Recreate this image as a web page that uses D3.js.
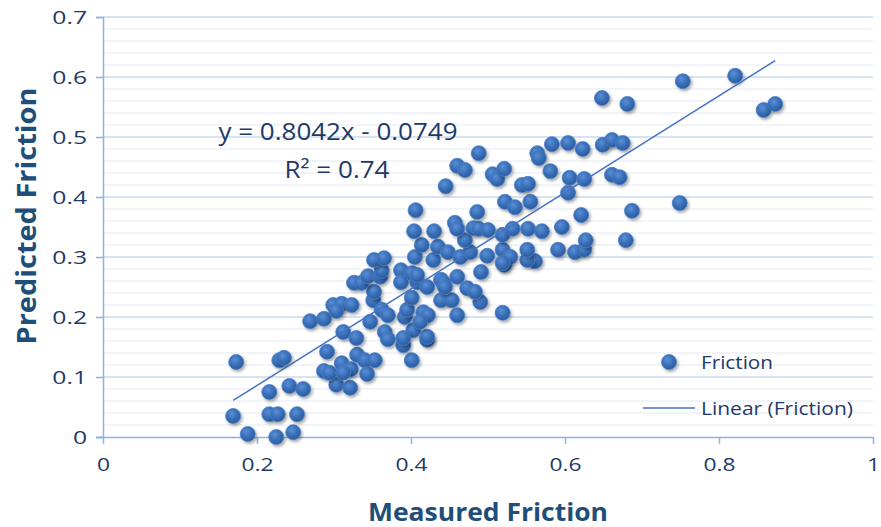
<!DOCTYPE html>
<html>
<head>
<meta charset="utf-8">
<script src="https://cdn.jsdelivr.net/npm/d3@7/dist/d3.min.js"></script>
<style>
  html, body { margin: 0; padding: 0; background: #ffffff; }
  svg { display: block; }
</style>
</head>
<body>
<svg id="chart" width="881" height="527"></svg>
<script>
// ---- data ----
const measured = [
  0.169,0.188,0.216,0.216,0.227,0.225,0.252,0.247,0.242,0.260,0.303,0.321,
  0.173,0.229,0.235,0.291,0.287,0.294,0.310,0.322,0.330,0.340,0.343,0.353,0.312,0.401,0.390,0.421,
  0.269,0.287,0.299,0.310,0.323,0.303,0.347,0.312,0.329,0.351,0.352,0.362,0.370,0.366,0.370,0.403,
  0.390,0.421,0.392,0.395,0.401,0.416,0.422,0.412,0.439,0.453,0.460,0.490,0.519,
  0.326,0.336,0.344,0.360,0.362,0.352,0.365,0.387,0.387,0.401,0.408,0.408,0.421,0.439,0.442,0.444,
  0.460,0.473,0.483,0.491,0.521,0.561,0.551,
  0.405,0.414,0.429,0.435,0.448,0.464,0.477,0.499,0.519,0.529,0.519,0.551,0.591,0.613,0.625,0.627,
  0.679,0.470,
  0.406,0.404,0.430,0.457,0.460,0.481,0.488,0.500,0.519,0.532,0.552,0.570,0.596,0.486,0.522,0.535,
  0.555,0.621,0.687,0.749,
  0.445,0.460,0.470,0.506,0.512,0.521,0.544,0.552,0.581,0.606,0.625,0.604,0.661,0.671,
  0.488,0.564,0.566,0.583,0.604,0.623,0.649,0.661,0.675,
  0.648,0.681,0.753,0.821,0.858,0.873
];
const predicted = [
  0.035,0.005,0.075,0.038,0.038,0.000,0.038,0.008,0.085,0.080,0.087,0.082,
  0.125,0.128,0.132,0.142,0.110,0.107,0.123,0.113,0.137,0.128,0.105,0.128,0.107,0.128,0.153,0.162,
  0.193,0.197,0.220,0.222,0.220,0.210,0.192,0.175,0.165,0.228,0.242,0.212,0.203,0.175,0.163,0.178,
  0.165,0.167,0.200,0.212,0.232,0.208,0.203,0.192,0.228,0.228,0.203,0.225,0.207,
  0.257,0.257,0.268,0.267,0.277,0.295,0.298,0.278,0.258,0.273,0.258,0.270,0.250,0.262,0.257,0.250,
  0.267,0.248,0.242,0.275,0.287,0.293,0.295,
  0.300,0.320,0.295,0.317,0.308,0.300,0.308,0.302,0.312,0.300,0.290,0.312,0.312,0.308,0.312,0.328,
  0.328,0.328,
  0.378,0.343,0.343,0.357,0.347,0.348,0.347,0.345,0.337,0.347,0.347,0.343,0.350,0.375,0.392,0.383,
  0.392,0.370,0.377,0.390,
  0.418,0.452,0.445,0.438,0.430,0.447,0.420,0.422,0.443,0.432,0.430,0.407,0.437,0.433,
  0.473,0.473,0.465,0.488,0.490,0.480,0.487,0.495,0.490,
  0.565,0.555,0.593,0.602,0.545,0.555
];
const xTicks = [0, 0.2, 0.4, 0.6, 0.8, 1];
const xTickLabels = ["0", "0.2", "0.4", "0.6", "0.8", "1"];
const yTicks = [0, 0.1, 0.2, 0.3, 0.4, 0.5, 0.6, 0.7];
const yTickLabels = ["0", "0.1", "0.2", "0.3", "0.4", "0.5", "0.6", "0.7"];
const slope = 0.8042;
const intercept = -0.0749;
const equationText = "y = 0.8042x - 0.0749";
const r2Text = "R² = 0.74";
const seriesName = "Friction";
const trendName = "Linear (Friction)";
const xTitle = "Measured Friction";
const yTitle = "Predicted Friction";

// ---- layout ----
const W = 881, H = 527;
const m = { left: 103, right: 8, top: 17, bottom: 90 };
const svg = d3.select("#chart");
const font = "'Open Sans', 'Noto Sans', sans-serif";
const textCol = "#1f3a68";
const titleCol = "#1f4e79";

// widen glyphs horizontally (the reference text is slightly stretched)
function stretch(sel, factor) {
  sel.each(function () {
    const len = this.getComputedTextLength();
    d3.select(this).attr("textLength", len * factor).attr("lengthAdjust", "spacingAndGlyphs");
  });
}
function fitTo(sel, width) {
  sel.attr("textLength", width).attr("lengthAdjust", "spacingAndGlyphs");
}

const x = d3.scaleLinear().domain([0, 1]).range([m.left, W - m.right]);
const y = d3.scaleLinear().domain([0, 0.7]).range([H - m.bottom, m.top]);

const defs = svg.append("defs");
const grad = defs.append("radialGradient").attr("id", "dotGrad")
  .attr("cx", "40%").attr("cy", "35%").attr("r", "65%");
grad.append("stop").attr("offset", "0%").attr("stop-color", "#5a8fd6");
grad.append("stop").attr("offset", "55%").attr("stop-color", "#3a70b9");
grad.append("stop").attr("offset", "100%").attr("stop-color", "#2b5b9c");
const filt = defs.append("filter").attr("id", "shadow")
  .attr("x", "-50%").attr("y", "-50%").attr("width", "200%").attr("height", "200%");
filt.append("feDropShadow").attr("dx", 1.5).attr("dy", 2).attr("stdDeviation", 1.4)
  .attr("flood-color", "#000").attr("flood-opacity", 0.35);

// gridlines (minor every 0.02, major every 0.1)
const minor = d3.range(0, 36).map(i => i * 0.02).filter(v => Math.abs(v * 10 - Math.round(v * 10)) > 1e-6);
svg.append("g").selectAll("line").data(minor).join("line")
  .attr("x1", x(0)).attr("x2", x(1))
  .attr("y1", d => y(d)).attr("y2", d => y(d))
  .attr("stroke", "#edf2f9").attr("stroke-width", 1.5);
svg.append("g").selectAll("line").data(yTicks.slice(1)).join("line")
  .attr("x1", x(0)).attr("x2", x(1))
  .attr("y1", d => y(d)).attr("y2", d => y(d))
  .attr("stroke", "#cbdaee").attr("stroke-width", 1.5);

// axes
const axisCol = "#8fb3e0";
const gx = svg.append("g").attr("transform", `translate(0,${y(0)})`)
  .call(d3.axisBottom(x).tickValues(xTicks).tickFormat((d, i) => xTickLabels[i]).tickSizeOuter(0).tickSize(7).tickPadding(14));
const gy = svg.append("g").attr("transform", `translate(${x(0)},0)`)
  .call(d3.axisLeft(y).tickValues(yTicks).tickFormat((d, i) => yTickLabels[i]).tickSizeOuter(0).tickSize(7).tickPadding(9));
[gx, gy].forEach(g => {
  g.select(".domain").attr("stroke", axisCol).attr("stroke-width", 1.5);
  g.selectAll(".tick line").attr("stroke", axisCol).attr("stroke-width", 1.5);
  g.selectAll(".tick text").attr("fill", textCol).style("font-family", font).style("font-size", "19px");
});
gx.select(".domain").attr("d", `M${x(0) - 7},0.5H${x(1)}`);
stretch(gy.selectAll(".tick text"), 1.3);
stretch(gx.selectAll(".tick text"), 1.2);

// points
svg.append("g").selectAll("circle").data(measured.map((v, i) => [v, predicted[i]])).join("circle")
  .attr("cx", d => x(d[0])).attr("cy", d => y(d[1])).attr("r", 7.5)
  .attr("fill", "url(#dotGrad)").attr("stroke", "#4a7fc6").attr("stroke-width", 0.8)
  .attr("filter", "url(#shadow)");

// trendline
const xMin = d3.min(measured), xMax = d3.max(measured);
svg.append("line")
  .attr("x1", x(xMin)).attr("y1", y(slope * xMin + intercept))
  .attr("x2", x(xMax)).attr("y2", y(slope * xMax + intercept))
  .attr("stroke", "#4472c4").attr("stroke-width", 1.5);

// equation
const eq = svg.append("text").attr("x", 338).attr("y", 140).attr("text-anchor", "middle")
  .attr("fill", textCol).style("font-family", font).style("font-size", "24px").text(equationText);
fitTo(eq, 239);
const r2 = svg.append("text").attr("x", 337).attr("y", 178).attr("text-anchor", "middle")
  .attr("fill", textCol).style("font-family", font).style("font-size", "24px").text(r2Text);
fitTo(r2, 105);

// legend
svg.append("circle").attr("cx", 669).attr("cy", 362).attr("r", 7.5)
  .attr("fill", "url(#dotGrad)").attr("stroke", "#4a7fc6").attr("stroke-width", 0.8)
  .attr("filter", "url(#shadow)");
const l1 = svg.append("text").attr("x", 701).attr("y", 369).attr("fill", textCol)
  .style("font-family", font).style("font-size", "19px").text(seriesName);
fitTo(l1, 72);
svg.append("line").attr("x1", 643).attr("x2", 695).attr("y1", 408).attr("y2", 408)
  .attr("stroke", "#4472c4").attr("stroke-width", 1.5);
const l2 = svg.append("text").attr("x", 701).attr("y", 415).attr("fill", textCol)
  .style("font-family", font).style("font-size", "19px").text(trendName);
fitTo(l2, 152);

// axis titles
const xt = svg.append("text").attr("x", 488).attr("y", 521).attr("text-anchor", "middle")
  .attr("fill", titleCol).style("font-family", font).style("font-weight", "bold").style("font-size", "25px")
  .text(xTitle);
fitTo(xt, 240);
const yt = svg.append("text").attr("transform", "translate(36,216) rotate(-90)").attr("text-anchor", "middle")
  .attr("fill", titleCol).style("font-family", font).style("font-weight", "bold").style("font-size", "26px")
  .text(yTitle);
fitTo(yt, 257);
</script>
</body>
</html>
